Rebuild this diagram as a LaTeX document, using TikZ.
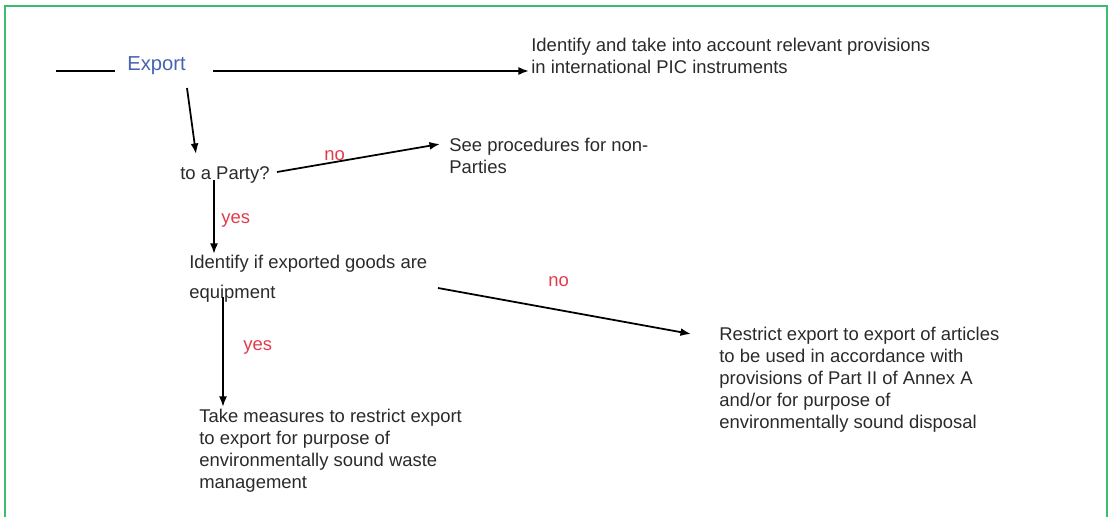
\documentclass[tikz,border=0pt]{standalone}
\usepackage{fontspec}
\setmainfont{Liberation Sans}
\usetikzlibrary{arrows.meta}
\definecolor{textgray}{HTML}{2A2A2A}
\definecolor{exportblue}{HTML}{4463B0}
\definecolor{lblred}{HTML}{E23B4C}
\definecolor{framegreen}{HTML}{3DBB6F}

\begin{document}
\begin{tikzpicture}[x=0.02cm, y=-0.02cm]
\tikzset{texte/.style={anchor=base west, inner sep=0pt, align=left, text=textgray, font=\fontsize{10.5}{12.5}\selectfont},
  etiq/.style={anchor=base west, inner sep=0pt, text=lblred, font=\fontsize{10.5}{12.5}\selectfont},
  fleche/.style={draw, line width=1pt, -{Latex[length=6pt, width=4.5pt]}}}
\useasboundingbox (0,0) rectangle (1108,517);
\draw[framegreen, line width=0.8pt] (5,517) -- (5,6) -- (1107,6) -- (1107,517);
% texts (base = last line)
\node[texte, text=exportblue, font=\fontsize{11.5}{13.5}\selectfont] (E) at (127,71) {Export};
\node[texte] (PIC) at (531,73) {Identify and take into account relevant provisions\\in international PIC instruments};
\node[texte] (P) at (180,179) {to a Party?};
\node[texte] (NP) at (449,173) {See procedures for non-\\Parties};
\node[texte] (G) at (189,298) {Identify if exported goods are\\[4.5pt]equipment};
\node[texte] (M) at (199,488) {Take measures to restrict export\\to export for purpose of\\environmentally sound waste\\management};
\node[texte] (R) at (719,428) {Restrict export to export of articles\\to be used in accordance with\\provisions of Part II of Annex A\\and/or for purpose of\\environmentally sound disposal};
\node[etiq] (N1) at (324,160) {no};
\node[etiq] (Y1) at (221,223) {yes};
\node[etiq] (N2) at (548,286) {no};
\node[etiq] (Y2) at (243,350) {yes};
% arrow ends
\coordinate (U1) at (56,71);
\coordinate (U2) at (115,71);
\coordinate (A1) at (213,71);
\coordinate (B1) at (529,71);
\coordinate (A2) at (187,88);
\coordinate (B2) at (196,154);
\coordinate (A3) at (277,172);
\coordinate (B3) at (440,144);
\coordinate (A4) at (214,180);
\coordinate (B4) at (214,254);
\coordinate (A5) at (438,288);
\coordinate (B5) at (691,334);
\coordinate (A6) at (223,297);
\coordinate (B6) at (223,407);
\draw[line width=0.6pt] (U1) -- (U2);
\draw[fleche] (A1) -- (B1);
\draw[fleche] (A2) -- (B2);
\draw[fleche] (A3) -- (B3);
\draw[fleche] (A4) -- (B4);
\draw[fleche] (A5) -- (B5);
\draw[fleche] (A6) -- (B6);
\end{tikzpicture}
\end{document}
